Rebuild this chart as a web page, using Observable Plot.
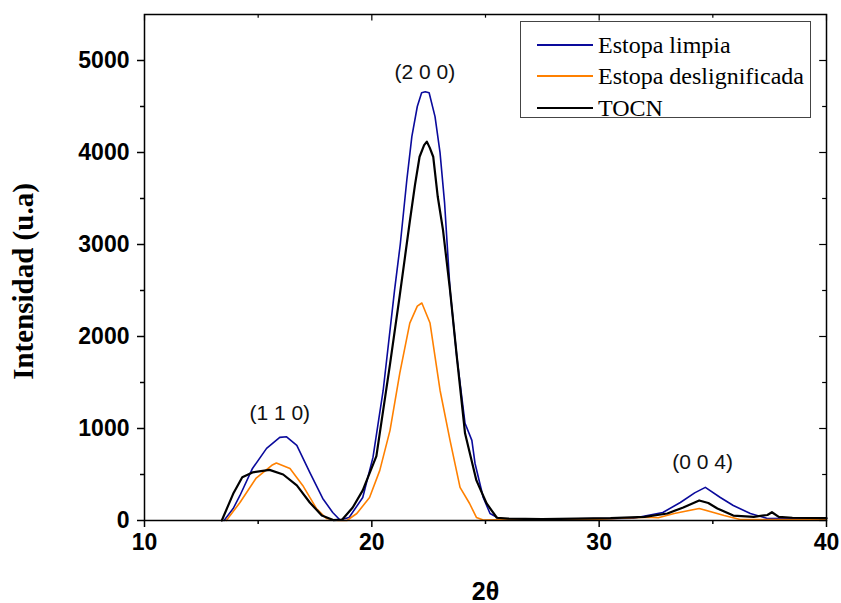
<!DOCTYPE html>
<html><head><meta charset="utf-8">
<script src="https://cdn.jsdelivr.net/npm/d3@7"></script>
<script src="https://cdn.jsdelivr.net/npm/@observablehq/plot@0.6"></script>
<style>
body{margin:0;background:#fff;}
#wrap{position:relative;width:841px;height:603px;}
#legend{position:absolute;left:520px;top:21px;width:291px;height:97px;border:1px solid #444;background:#fff;box-sizing:border-box;font-family:"Liberation Serif","Times New Roman",serif;font-size:24px;color:#000;}
#legend .row{position:absolute;left:16px;height:30px;display:flex;align-items:center;}
#legend .sw{width:56px;height:0;border-top:2px solid;margin-right:5px;}
</style></head>
<body><div id="wrap"><div id="chart"></div><div id="legend"></div></div>
<script>
// Estopa limpia
const limpiaX = [13.5,13.9,14.2,14.75,15.37,15.95,16.25,16.7,17.27,17.84,18.28,18.6,19.0,19.6,20.05,20.5,21.0,21.25,21.54,21.76,22.0,22.19,22.35,22.52,22.78,23.0,23.2,23.44,23.74,24.1,24.4,24.54,24.9,25.2,25.6,26.5,28,30,31.5,32.8,33.57,34.2,34.67,35.33,35.9,36.65,37.4,38.5,40];
const limpiaY = [0,130,272,566,784,904,910,817,523,240,87,5,33,250,686,1416,2505,3000,3704,4172,4500,4650,4660,4650,4390,3998,3453,2505,1776,1057,871,620,250,76,20,10,15,20,25,87,196,300,360,250,163,76,22,25,20];
// Estopa deslignificada
const deslX = [13.6,14.2,14.9,15.6,15.8,16.4,16.96,17.56,18.0,18.5,18.9,19.34,19.9,20.35,20.8,21.23,21.67,22.0,22.2,22.56,23.0,23.44,23.88,24.3,24.6,24.9,26,28,30,31,32.1,32.6,33.3,34.4,35.5,36.2,38,40];
const deslY = [0,196,457,600,625,566,381,131,22,0,0,76,250,545,980,1601,2146,2330,2364,2146,1416,871,360,185,33,5,10,10,15,25,35,30,76,131,54,10,10,10];
// TOCN
const tocnX = [13.4,13.9,14.3,14.75,15.5,16.1,16.7,17.27,17.8,18.3,18.7,19.16,19.6,20.2,20.8,21.23,21.45,21.67,21.9,22.1,22.3,22.42,22.55,22.7,22.9,23.13,23.3,23.44,23.74,24.1,24.6,25.05,25.5,26,27.5,29,30.5,32,33.0,33.7,34.4,34.8,35.2,35.9,36.8,37.4,37.6,37.9,38.5,40];
const tocnY = [0,290,470,523,550,500,381,196,54,5,10,142,327,700,1700,2450,2850,3250,3650,3954,4080,4118,4050,3954,3519,3159,2800,2505,1776,948,436,185,30,20,15,20,25,40,76,142,218,190,131,54,40,60,90,40,30,25];

const seriesNames = ["Estopa limpia","Estopa deslignificada","TOCN"];
const seriesColors = ["#0a0a9c","#ff8000","#000000"];
const seriesWidths = [1.6,1.6,2.2];

const peakLabels = ["(1 1 0)","(2 0 0)","(0 0 4)"];
const peakX = [15.95,22.33,34.55];
const peakY = [1163,4870,630];

const xMajor = [10,20,30,40];
const xMinor = [15,25,35];
const yMajor = [0,1000,2000,3000,4000,5000];
const yMinor = [500,1500,2500,3500,4500];

const xTitle = "2θ";
const yTitle = "Intensidad (u.a)";

const toRows = (xs, ys) => xs.map((x,i)=>({x, y: ys[i]}));
const data = [toRows(limpiaX,limpiaY), toRows(deslX,deslY), toRows(tocnX,tocnY)];
const peaks = peakLabels.map((t,i)=>({t, x: peakX[i], y: peakY[i]}));

const sans = "Liberation Sans, Arial, sans-serif";
const serif = "Liberation Serif, Times New Roman, serif";
const plain = d => String(d);

const chart = Plot.plot({
  width: 841, height: 603,
  marginLeft: 144, marginRight: 15, marginTop: 14, marginBottom: 83,
  style: {fontFamily: sans, background: "#fff", overflow: "visible"},
  x: {domain: [10,40]},
  y: {domain: [0,5500]},
  marks: [
    ...data.map((d,i)=>Plot.line(d, {x:"x", y:"y", stroke: seriesColors[i], strokeWidth: seriesWidths[i], curve: "linear"})),
    Plot.frame({stroke: "#000", strokeWidth: 1.5}),
    Plot.axisX({ticks: xMajor, tickFormat: plain, tickSize: 7, tickPadding: 6, fontSize: 23, fontWeight: "bold", fontFamily: sans, label: null, strokeWidth: 1.5, color: "#000"}),
    Plot.axisX({ticks: xMinor, tickSize: 4, tickFormat: () => "", label: null, strokeWidth: 1.5}),
    Plot.axisY({ticks: yMajor, tickFormat: plain, tickSize: 7, tickPadding: 8, fontSize: 23, fontWeight: "bold", fontFamily: sans, label: null, strokeWidth: 1.5}),
    Plot.axisY({ticks: yMinor, tickSize: 4, tickFormat: () => "", label: null, strokeWidth: 1.5}),
    Plot.ruleX(xMajor, {x: d=>d, y1: 5500, y2: 5430, stroke: "#000", strokeWidth: 1.2}),
    Plot.ruleX(xMinor, {x: d=>d, y1: 5500, y2: 5460, stroke: "#000", strokeWidth: 1.2}),
    Plot.ruleY(yMajor, {y: d=>d, x1: 40, x2: 39.7, stroke: "#000", strokeWidth: 1.2}),
    Plot.ruleY(yMinor, {y: d=>d, x1: 40, x2: 39.83, stroke: "#000", strokeWidth: 1.2}),
    Plot.text(peaks, {x:"x", y:"y", text:"t", fontSize: 21, fontFamily: sans, fill: "#111"}),
    Plot.text([yTitle], {frameAnchor: "left", textAnchor: "middle", dx: -121, dy: 14, rotate: -90, fontSize: 29, fontWeight: "bold", fontFamily: serif, fill: "#000"}),
    Plot.text([xTitle], {frameAnchor: "bottom", lineAnchor: "middle", dy: 71, fontSize: 25, fontWeight: "bold", fontFamily: sans, fill: "#000"})
  ]
});
document.getElementById("chart").appendChild(chart);

const legend = document.getElementById("legend");
const rowTops = [8, 39, 71];
seriesNames.forEach((n,i)=>{
  const r = document.createElement("div");
  r.className = "row";
  r.style.top = rowTops[i] + "px";
  const sw = document.createElement("span");
  sw.className = "sw";
  sw.style.borderTopColor = seriesColors[i];
  const t = document.createElement("span");
  t.textContent = n;
  r.appendChild(sw); r.appendChild(t);
  legend.appendChild(r);
});
</script>
</body></html>
